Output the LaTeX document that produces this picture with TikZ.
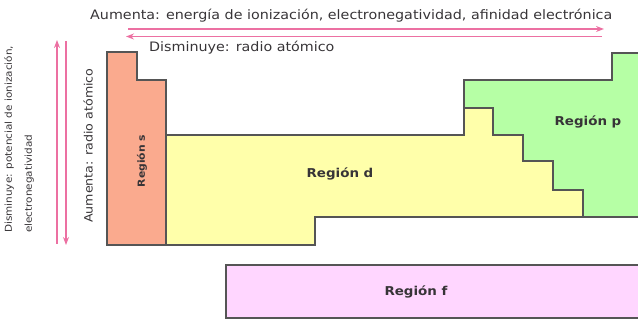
\documentclass[tikz,border=0pt]{standalone}
\usepackage{fontspec}
\setmainfont[FakeStretch=1.1]{DejaVu Sans}
\usetikzlibrary{arrows.meta}
\definecolor{sreg}{RGB}{250,170,142}
\definecolor{dreg}{RGB}{255,255,170}
\definecolor{preg}{RGB}{182,255,165}
\definecolor{freg}{RGB}{255,214,255}
\definecolor{arr}{RGB}{236,112,162}
\definecolor{bord}{RGB}{85,85,85}
\definecolor{txt}{RGB}{55,52,55}
\tikzset{
  region/.style={draw=bord, line width=1.6pt, line join=miter},
  pinkarrow/.style={draw=arr, line width=1.4pt, -{Stealth[length=8pt,width=6pt]}},
  lbl/.style={text=txt, inner sep=0pt, font=\fontsize{13}{14}\selectfont},
  sidelbl/.style={text=txt, inner sep=0pt, font=\fontsize{9.5}{20}\selectfont},
  reglbl/.style={text=txt, inner sep=0pt, font=\bfseries\fontsize{12.2}{13}\selectfont},
}
\begin{document}
\begin{tikzpicture}[x=1pt,y=-1pt]
\useasboundingbox (0,0) rectangle (638,320);
\clip (0,0) rectangle (638,320);
% regions
\path[region, fill=sreg] (107,52) -- (137,52) -- (137,80) -- (166,80) -- (166,245) -- (107,245) -- cycle;
\path[region, fill=dreg] (166,135) -- (464,135) -- (464,108) -- (493,108) -- (493,135) -- (523,135) -- (523,161) -- (553,161) -- (553,190) -- (583,190) -- (583,217) -- (315,217) -- (315,245) -- (166,245) -- cycle;
\path[region, fill=preg] (464,108) -- (464,80) -- (612,80) -- (612,53) -- (650,53) -- (650,217) -- (583,217) -- (583,190) -- (553,190) -- (553,161) -- (523,161) -- (523,135) -- (493,135) -- (493,108) -- cycle;
\path[region, fill=freg] (650,265) -- (226,265) -- (226,318) -- (650,318) -- cycle;
% labels
\node[reglbl, rotate=90, font=\bfseries\fontsize{9.8}{11}\selectfont] (ls) at (142,161) {Región s};
\node[reglbl] (ld) at (340,174) {Región d};
\node[reglbl] (lp) at (588,122) {Región p};
\node[reglbl] (lf) at (416,292) {Región f};
% top
\node[lbl, anchor=west] (ttop) at (90,16) {Aumenta: energía de ionización, electronegatividad, afinidad electrónica};
\node[lbl, anchor=west] (tbot) at (149,48) {Disminuye: radio atómico};
\coordinate (a1s) at (128,29);
\coordinate (a1e) at (604,29);
\coordinate (a2s) at (602,36.5);
\coordinate (a2e) at (126,36.5);
\draw[pinkarrow] (a1s) -- (a1e);
\draw[pinkarrow] (a2s) -- (a2e);
% left
\coordinate (b1s) at (57,244);
\coordinate (b1e) at (57,40);
\coordinate (b2s) at (66,41);
\coordinate (b2e) at (66,245);
\draw[pinkarrow] (b1s) -- (b1e);
\draw[pinkarrow] (b2s) -- (b2e);
\node[sidelbl, rotate=90, anchor=north west, align=left] (tleft) at (4,233) {Disminuye: potencial de ionización,\\electronegatividad};
\node[lbl, rotate=90, anchor=west, font=\fontsize{11.5}{13}\selectfont] (tram) at (88,223) {Aumenta: radio atómico};
\end{tikzpicture}
\end{document}
